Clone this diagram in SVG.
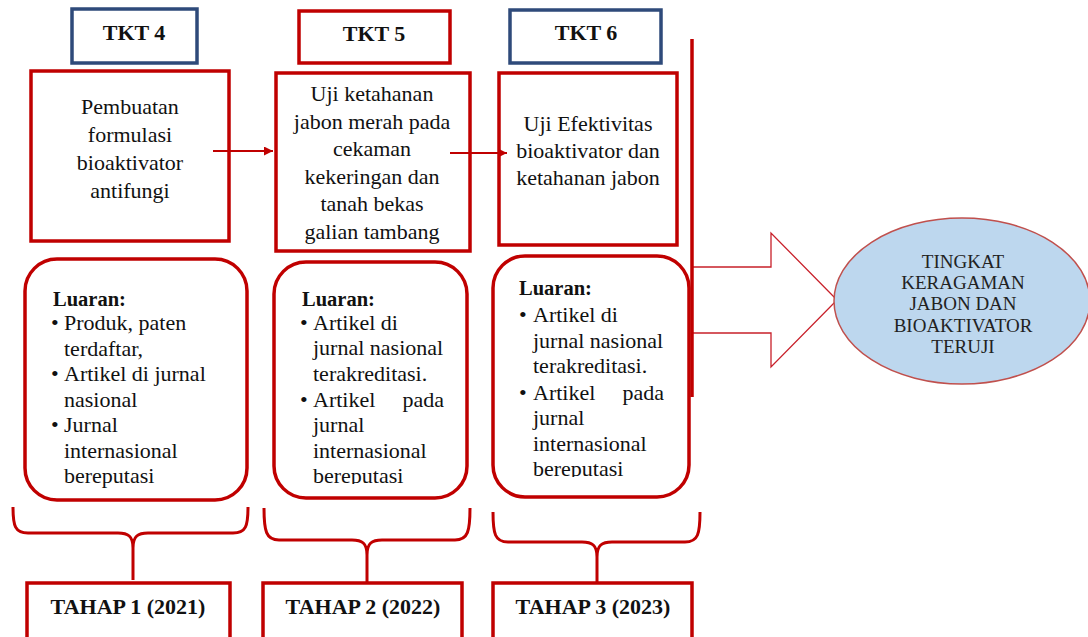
<svg xmlns="http://www.w3.org/2000/svg" width="1088" height="637" viewBox="0 0 1088 637">
<defs>
<style>
.t{font-family:"Liberation Serif","Times New Roman",serif;font-size:22px;fill:#111}
.c{text-anchor:middle}
.b{font-weight:bold}
.e{text-anchor:end}
.l{font-family:"Liberation Serif","Times New Roman",serif;font-size:22px;fill:#111}
.h{font-family:"Liberation Serif","Times New Roman",serif;font-size:20.5px;font-weight:bold;fill:#111}
.o{font-family:"Liberation Serif","Times New Roman",serif;font-size:19px;fill:#222;text-anchor:middle}
.red{fill:#fff;stroke:#c00000;stroke-width:3.5}
.blue{fill:#fff;stroke:#2e4a7a;stroke-width:3.5}
.rr{fill:#fff;stroke:#c00000;stroke-width:3.5}
.br{fill:none;stroke:#c00000;stroke-width:3}
</style>
<marker id="ah" viewBox="0 0 10 10" refX="10" refY="5" markerWidth="12" markerHeight="9" markerUnits="userSpaceOnUse" orient="auto">
<path d="M0,0 L10,5 L0,10 z" fill="#c00000"/>
</marker>
<clipPath id="c2"><rect x="270" y="255" width="200" height="229"/></clipPath>
<clipPath id="c3"><rect x="490" y="250" width="200" height="227"/></clipPath>
</defs>
<rect width="1088" height="637" fill="#fff"/>

<g id="tkt4"><rect class="blue" x="72" y="9" width="125" height="54"/><text class="t c b" x="134" y="40">TKT 4</text></g>
<g id="tkt5"><rect class="red" x="299" y="11" width="151" height="52"/><text class="t c b" x="374" y="41">TKT 5</text></g>
<g id="tkt6"><rect class="blue" x="510" y="10" width="151" height="53"/><text class="t c b" x="586" y="40">TKT 6</text></g>

<g id="box1"><rect class="red" x="31" y="71" width="198" height="170"/>
<text class="t c" x="130"><tspan x="130" y="114">Pembuatan</tspan><tspan x="130" y="142">formulasi</tspan><tspan x="130" y="170">bioaktivator</tspan><tspan x="130" y="198">antifungi</tspan></text></g>
<g id="box2"><rect class="red" x="276" y="73" width="194" height="178"/>
<text class="t c" x="372"><tspan x="372" y="101">Uji ketahanan</tspan><tspan x="372" y="128.5">jabon merah pada</tspan><tspan x="372" y="156">cekaman</tspan><tspan x="372" y="183.5">kekeringan dan</tspan><tspan x="372" y="211">tanah bekas</tspan><tspan x="372" y="238.5">galian tambang</tspan></text></g>
<g id="box3"><rect class="red" x="499" y="73" width="178" height="172"/>
<text class="t c" x="588"><tspan x="588" y="131">Uji Efektivitas</tspan><tspan x="588" y="158">bioaktivator dan</tspan><tspan x="588" y="185">ketahanan jabon</tspan></text></g>

<g id="luaran1"><rect class="rr" x="25" y="259" width="222" height="241" rx="32"/>
<text class="h" x="53" y="305.5">Luaran:</text>
<text class="l" x="51" y="330">•</text><text class="l" x="64" y="330">Produk, paten</text>
<text class="l" x="64" y="355.5">terdaftar,</text>
<text class="l" x="51" y="381">•</text><text class="l" x="64" y="381">Artikel di jurnal</text>
<text class="l" x="64" y="406.5">nasional</text>
<text class="l" x="51" y="432">•</text><text class="l" x="64" y="432">Jurnal</text>
<text class="l" x="64" y="457.5">internasional</text>
<text class="l" x="64" y="483">bereputasi</text></g>

<g id="luaran2"><rect class="rr" x="274" y="262" width="193" height="236" rx="32"/>
<g clip-path="url(#c2)">
<text class="h" x="302" y="305.5">Luaran:</text>
<text class="l" x="300" y="330">•</text><text class="l" x="313" y="330">Artikel di</text>
<text class="l" x="313" y="355">jurnal nasional</text>
<text class="l" x="313" y="380.5">terakreditasi.</text>
<text class="l" x="300" y="406.5">•</text><text class="l" x="313" y="406.5">Artikel</text><text class="l e" x="444" y="406.5">pada</text>
<text class="l" x="313" y="432">jurnal</text>
<text class="l" x="313" y="457.5">internasional</text>
<text class="l" x="313" y="483">bereputasi</text></g></g>

<g id="luaran3"><rect class="rr" x="493" y="256" width="196" height="241" rx="32"/>
<g clip-path="url(#c3)">
<text class="h" x="519" y="295">Luaran:</text>
<text class="l" x="519" y="322">•</text><text class="l" x="533" y="322">Artikel di</text>
<text class="l" x="533" y="347.5">jurnal nasional</text>
<text class="l" x="533" y="373">terakreditasi.</text>
<text class="l" x="519" y="399.5">•</text><text class="l" x="533" y="399.5">Artikel</text><text class="l e" x="664" y="399.5">pada</text>
<text class="l" x="533" y="425">jurnal</text>
<text class="l" x="533" y="450.5">internasional</text>
<text class="l" x="533" y="476">bereputasi</text></g></g>

<g id="bigarrow"><path d="M693,267 L771,267 L771,233 L837,300 L771,367 L771,333 L693,333" fill="none" stroke="#c8202a" stroke-width="1.3"/></g>

<g id="goal"><ellipse cx="962" cy="301" rx="128" ry="83" fill="#bdd7ee" stroke="#c0504d" stroke-width="1.5"/>
<text class="o"><tspan x="963" y="268">TINGKAT</tspan><tspan x="963" y="288.5">KERAGAMAN</tspan><tspan x="963" y="310">JABON DAN</tspan><tspan x="963" y="332">BIOAKTIVATOR</tspan><tspan x="963" y="353">TERUJI</tspan></text></g>

<g id="tahap1"><rect class="red" x="27" y="583" width="203" height="60"/><text class="t c b" x="128" y="614">TAHAP 1 (2021)</text></g>
<g id="tahap2"><rect class="red" x="263" y="583" width="199" height="60"/><text class="t c b" x="363" y="614">TAHAP 2 (2022)</text></g>
<g id="tahap3"><rect class="red" x="493" y="583" width="199" height="60"/><text class="t c b" x="593" y="614">TAHAP 3 (2023)</text></g>

<g id="connectors">
<line x1="213" y1="151" x2="273" y2="151" stroke="#c00000" stroke-width="2" marker-end="url(#ah)"/>
<line x1="450" y1="153" x2="507" y2="153" stroke="#c00000" stroke-width="2" marker-end="url(#ah)"/>
<line x1="692" y1="39" x2="692" y2="397" stroke="#c00000" stroke-width="3.5"/>
<path class="br" d="M13,507 C13,526 15,533 28,533 L118,533 C128,533 133,536 133,548 L133,580 M248,507 C248,526 246,533 233,533 L148,533 C138,533 133,536 133,548"/>
<path class="br" d="M264,508 C264,531 266,540 279,540 L352,540 C362,540 367,543 367,555 L367,582 M470,508 C470,531 468,540 455,540 L382,540 C372,540 367,543 367,555"/>
<path class="br" d="M493,512 C493,534 495,542 508,542 L582,542 C592,542 597,545 597,557 L597,582 M700,512 C700,534 698,542 685,542 L612,542 C602,542 597,545 597,557"/>
</g>
</svg>
